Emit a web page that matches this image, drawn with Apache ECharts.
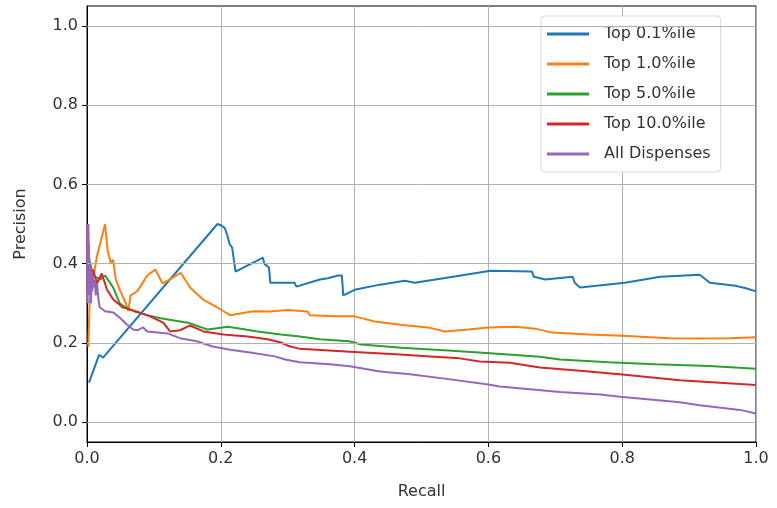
<!DOCTYPE html>
<html>
<head>
<meta charset="utf-8">
<script src="https://cdn.jsdelivr.net/npm/echarts@6/dist/echarts.min.js"></script>
<style>
  html, body { margin: 0; padding: 0; background: #fff; }
  #chart { width: 777px; height: 508px; }
</style>
</head>
<body>
<div id="chart"></div>
<script>
// Precision-recall curves, one per prescriber percentile group: [recall, precision]
const seriesNames = ['Top 0.1%ile', 'Top 1.0%ile', 'Top 5.0%ile', 'Top 10.0%ile', 'All Dispenses'];

const top01 = [
  [0.003, 0.10], [0.018, 0.17], [0.024, 0.163], [0.195, 0.50], [0.200, 0.497],
  [0.206, 0.49], [0.210, 0.47], [0.213, 0.45], [0.217, 0.44], [0.222, 0.38],
  [0.263, 0.415], [0.265, 0.40], [0.272, 0.39], [0.274, 0.352], [0.310, 0.352],
  [0.313, 0.342], [0.348, 0.36], [0.360, 0.363], [0.375, 0.37], [0.381, 0.37],
  [0.383, 0.32], [0.400, 0.334], [0.438, 0.347], [0.475, 0.357], [0.490, 0.352],
  [0.528, 0.362], [0.573, 0.374], [0.603, 0.382], [0.665, 0.380], [0.668, 0.367],
  [0.685, 0.36], [0.726, 0.367], [0.729, 0.352], [0.737, 0.34], [0.804, 0.352],
  [0.857, 0.367], [0.916, 0.372], [0.931, 0.352], [0.969, 0.344], [0.985, 0.338],
  [1.000, 0.33]
];

const top1 = [
  [0.002, 0.19], [0.004, 0.31], [0.010, 0.37], [0.015, 0.42], [0.027, 0.50],
  [0.031, 0.43], [0.036, 0.40], [0.039, 0.41], [0.043, 0.36], [0.050, 0.33],
  [0.058, 0.30], [0.062, 0.28], [0.065, 0.32], [0.075, 0.33], [0.090, 0.37],
  [0.102, 0.385], [0.113, 0.35], [0.124, 0.36], [0.140, 0.377], [0.154, 0.34],
  [0.173, 0.31], [0.194, 0.29], [0.214, 0.27], [0.248, 0.28], [0.273, 0.279],
  [0.300, 0.283], [0.330, 0.279], [0.333, 0.27], [0.370, 0.267], [0.400, 0.267],
  [0.430, 0.254], [0.468, 0.246], [0.513, 0.238], [0.535, 0.229], [0.570, 0.234],
  [0.600, 0.239], [0.640, 0.241], [0.670, 0.236], [0.695, 0.226], [0.750, 0.221],
  [0.800, 0.218], [0.870, 0.212], [0.920, 0.211], [0.960, 0.212], [1.000, 0.214]
];

const top5 = [
  [0.002, 0.34], [0.003, 0.415], [0.009, 0.37], [0.020, 0.36], [0.027, 0.37],
  [0.039, 0.34], [0.049, 0.30], [0.057, 0.29], [0.070, 0.28], [0.090, 0.27],
  [0.110, 0.262], [0.153, 0.25], [0.180, 0.234], [0.200, 0.238], [0.210, 0.241],
  [0.230, 0.236], [0.255, 0.229], [0.290, 0.221], [0.318, 0.216], [0.348, 0.209],
  [0.392, 0.204], [0.410, 0.196], [0.470, 0.188], [0.540, 0.181], [0.630, 0.171],
  [0.677, 0.165], [0.707, 0.158], [0.780, 0.151], [0.850, 0.146], [0.930, 0.142],
  [1.000, 0.135]
];

const top10 = [
  [0.0005, 0.50], [0.001, 0.33], [0.002, 0.50], [0.003, 0.33], [0.006, 0.33],
  [0.009, 0.385], [0.015, 0.35], [0.022, 0.375], [0.030, 0.334], [0.039, 0.31],
  [0.054, 0.289], [0.075, 0.279], [0.094, 0.267], [0.114, 0.251], [0.124, 0.229],
  [0.139, 0.232], [0.154, 0.244], [0.174, 0.229], [0.204, 0.221], [0.240, 0.216],
  [0.270, 0.209], [0.290, 0.201], [0.300, 0.193], [0.318, 0.185], [0.393, 0.178],
  [0.468, 0.171], [0.513, 0.166], [0.557, 0.161], [0.587, 0.153], [0.632, 0.150],
  [0.677, 0.138], [0.737, 0.130], [0.800, 0.120], [0.886, 0.106], [1.000, 0.094]
];

const allDispenses = [
  [0.0005, 0.50], [0.001, 0.30], [0.0015, 0.50], [0.002, 0.33], [0.003, 0.45],
  [0.004, 0.32], [0.005, 0.40], [0.006, 0.30], [0.007, 0.38], [0.008, 0.33],
  [0.009, 0.37], [0.010, 0.34], [0.012, 0.36], [0.013, 0.32], [0.015, 0.35],
  [0.017, 0.31], [0.019, 0.29], [0.027, 0.28], [0.039, 0.277], [0.050, 0.262],
  [0.060, 0.246], [0.069, 0.234], [0.076, 0.232], [0.084, 0.239], [0.090, 0.229],
  [0.120, 0.224], [0.139, 0.212], [0.164, 0.204], [0.188, 0.191], [0.214, 0.183],
  [0.244, 0.176], [0.281, 0.166], [0.296, 0.158], [0.318, 0.151], [0.363, 0.146],
  [0.393, 0.141], [0.438, 0.128], [0.483, 0.121], [0.543, 0.108], [0.600, 0.095],
  [0.617, 0.090], [0.707, 0.076], [0.767, 0.070], [0.797, 0.064], [0.886, 0.050],
  [0.916, 0.043], [0.976, 0.031], [1.000, 0.022]
];

const xTicks = [0, 0.2, 0.4, 0.6, 0.8, 1.0];
const yTicks = [0, 0.2, 0.4, 0.6, 0.8, 1.0];

const colors = ['#1f77b4', '#ff7f0e', '#2ca02c', '#d62728', '#9467bd'];
const curves = [top01, top1, top5, top10, allDispenses];
const FONT = 'DejaVu Sans';
const TEXT = '#333333';
const GRID = '#b0b0b0';

const chart = echarts.init(document.getElementById('chart'), null, { renderer: 'canvas' });

const lineSeries = curves.map((data, i) => ({
  name: seriesNames[i],
  type: 'line',
  data: data,
  showSymbol: false,
  symbol: 'none',
  smooth: false,
  animation: false,
  z: 3,
  lineStyle: { color: colors[i], width: 2 },
  itemStyle: { color: colors[i] }
}));

// Horizontal grid lines at the precision ticks
const gridSeries = {
  type: 'line',
  data: [],
  silent: true,
  z: 1,
  animation: false,
  markLine: {
    silent: true,
    symbol: ['none', 'none'],
    animation: false,
    label: { show: false },
    lineStyle: { color: GRID, width: 1, type: 'solid' },
    emphasis: { disabled: true },
    data: yTicks.map(v => ({ yAxis: v }))
  }
};

chart.setOption({
  animation: false,
  backgroundColor: '#ffffff',
  grid: {
    left: 87, right: 21, top: 6, bottom: 66,
    show: true, borderColor: '#000', borderWidth: 1, backgroundColor: 'transparent'
  },
  legend: {
    data: seriesNames,
    orient: 'vertical',
    left: 541,
    top: 16,
    width: 209,
    itemWidth: 42,
    itemHeight: 3,
    itemGap: 12,
    icon: 'rect',
    padding: [9, 10, 9, 6],
    backgroundColor: '#ffffff',
    borderColor: '#d9d9d9',
    borderWidth: 1,
    borderRadius: 4,
    textStyle: { fontFamily: FONT, fontSize: 16, color: TEXT, padding: [0, 0, 0, 10], lineHeight: 18 }
  },
  xAxis: {
    type: 'value',
    min: 0, max: 1, interval: 0.2,
    name: 'Recall',
    nameLocation: 'middle',
    nameGap: 42,
    nameTextStyle: { fontFamily: FONT, fontSize: 16, color: TEXT },
    axisLine: { show: true, onZero: false, lineStyle: { color: '#000', width: 1 } },
    axisTick: { show: true, length: 5, lineStyle: { color: '#000' } },
    axisLabel: {
      fontFamily: FONT, fontSize: 16, color: TEXT, margin: 9,
      customValues: xTicks,
      formatter: v => v.toFixed(1)
    },
    splitLine: { show: true, lineStyle: { color: GRID, width: 1 } }
  },
  yAxis: {
    type: 'value',
    min: -0.05, max: 1.05,
    name: 'Precision',
    nameLocation: 'middle',
    nameGap: 58,
    nameRotate: 90,
    nameTextStyle: { fontFamily: FONT, fontSize: 16, color: TEXT },
    axisLine: { show: true, onZero: false, lineStyle: { color: '#000', width: 1 } },
    axisTick: { show: true, length: 5, customValues: yTicks, lineStyle: { color: '#000' } },
    axisLabel: {
      fontFamily: FONT, fontSize: 16, color: TEXT, margin: 9,
      customValues: yTicks,
      formatter: v => v.toFixed(1)
    },
    splitLine: { show: false }
  },
  series: [gridSeries].concat(lineSeries)
});
</script>
</body>
</html>
